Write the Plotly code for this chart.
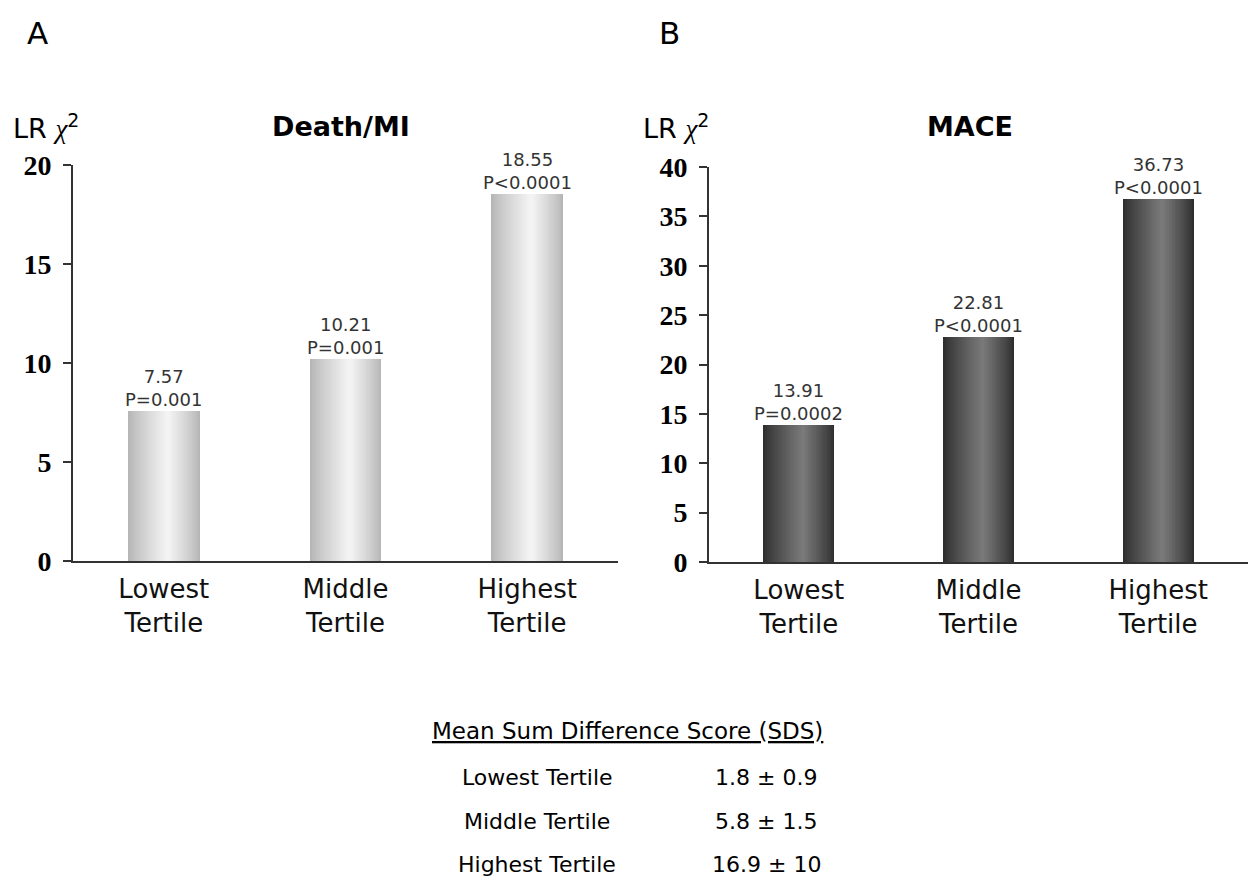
import plotly.graph_objects as go

categories = ["Lowest<br>Tertile", "Middle<br>Tertile", "Highest<br>Tertile"]
death_mi = [7.57, 10.21, 18.55]
death_mi_p = ["P=0.001", "P=0.001", "P<0.0001"]
mace = [13.91, 22.81, 36.73]
mace_p = ["P=0.0002", "P<0.0001", "P<0.0001"]
sds_tertiles = ["Lowest Tertile", "Middle Tertile", "Highest Tertile"]
sds_values = ["1.8 ± 0.9", "5.8 ± 1.5", "16.9 ± 10"]

SANS = "DejaVu Sans, Verdana, sans-serif"
SERIF = "Liberation Serif, Times New Roman, serif"

# figure size (page body has an 8px margin)
OFF = 8
W, H = 1240, 870


def px(X):
    return (X - OFF) / W


def py(Y):
    return 1 - (Y - OFF) / H


fig = go.Figure()
xs = [0, 1, 2]


def lerp(c1, c2, t):
    return "rgb(%d,%d,%d)" % tuple(round(a + (b - a) * t) for a, b in zip(c1, c2))


def gradient_bars(vals, xa, ya, edge, center, width=0.395, peak=0.56, n=20):
    left_span = width * peak
    right_span = width * (1 - peak)
    for k in range(n):
        t = k / n
        l = -width / 2 + t * left_span
        r = width / 2 - t * right_span
        col = lerp(edge, center, t ** 0.85)
        fig.add_trace(go.Bar(
            x=xs, y=vals, xaxis=xa, yaxis=ya,
            width=[r - l] * 3, offset=[l] * 3,
            marker=dict(color=col, line=dict(width=0)),
            showlegend=False, hoverinfo="skip",
        ))


gradient_bars(death_mi, "x", "y", (182, 182, 182), (246, 246, 246))
gradient_bars(mace, "x2", "y2", (46, 46, 46), (124, 124, 124))

for i in range(3):
    fig.add_annotation(x=xs[i], y=death_mi[i], xref="x", yref="y",
                       text=f"{death_mi[i]:.2f}<br>{death_mi_p[i]}", showarrow=False,
                       yanchor="bottom", yshift=-1,
                       font=dict(family=SANS, size=18, color="#333333"))
    fig.add_annotation(x=xs[i], y=mace[i], xref="x2", yref="y2",
                       text=f"{mace[i]:.2f}<br>{mace_p[i]}", showarrow=False,
                       yanchor="bottom", yshift=-1,
                       font=dict(family=SANS, size=18, color="#333333"))

xaxis_common = dict(showline=True, linecolor="#333", linewidth=2, ticks="",
                    tickvals=xs, ticktext=categories, automargin=False,
                    ticklabelstandoff=4,
                    tickfont=dict(family=SANS, size=26, color="#111"),
                    showgrid=False, zeroline=False, range=[-0.5, 2.5])
yaxis_common = dict(showline=True, linecolor="#333", linewidth=2, ticks="outside",
                    ticklen=8, tickwidth=1.5, tickcolor="#333", showgrid=False,
                    zeroline=False, dtick=5, ticklabelstandoff=6, automargin=False,
                    tickfont=dict(family=SERIF, size=28, color="#000", weight="bold"))

fig.update_layout(
    width=W, height=H,
    margin=dict(l=0, r=0, t=0, b=0, autoexpand=False),
    paper_bgcolor="white", plot_bgcolor="white",
    barmode="overlay", bargap=0,
    xaxis=dict(domain=[px(73), px(618)], anchor="y", **xaxis_common),
    yaxis=dict(domain=[py(561), py(165)], range=[0, 20], anchor="x", **yaxis_common),
    xaxis2=dict(domain=[px(709), px(1248)], anchor="y2", **xaxis_common),
    yaxis2=dict(domain=[py(562), py(167)], range=[0, 40], anchor="x2", **yaxis_common),
)


def pa(x, y, text, size, family=SANS, xanchor="center", color="#000"):
    fig.add_annotation(x=px(x), y=py(y), xref="paper", yref="paper", text=text,
                       showarrow=False, xanchor=xanchor, yanchor="middle", borderpad=0,
                       font=dict(family=family, size=size, color=color))


CHI = "LR <span style='font-family:Liberation Serif'><i>χ</i></span><sup>2</sup>"
pa(37, 33, "A", 31)
pa(670, 33, "B", 31)
pa(12, 127, CHI, 27, xanchor="left")
pa(642, 127, CHI, 27, xanchor="left")
pa(341, 127, "<b>Death/MI</b>", 27)
pa(970, 127, "<b>MACE</b>", 27)

pa(627, 731, "<u>Mean Sum Difference Score (SDS)</u>", 23)
row_y = [777, 821, 864]
for i in range(3):
    pa(537, row_y[i], sds_tertiles[i], 22)
    pa(766, row_y[i], sds_values[i], 22)

fig.write_html("out.html")
